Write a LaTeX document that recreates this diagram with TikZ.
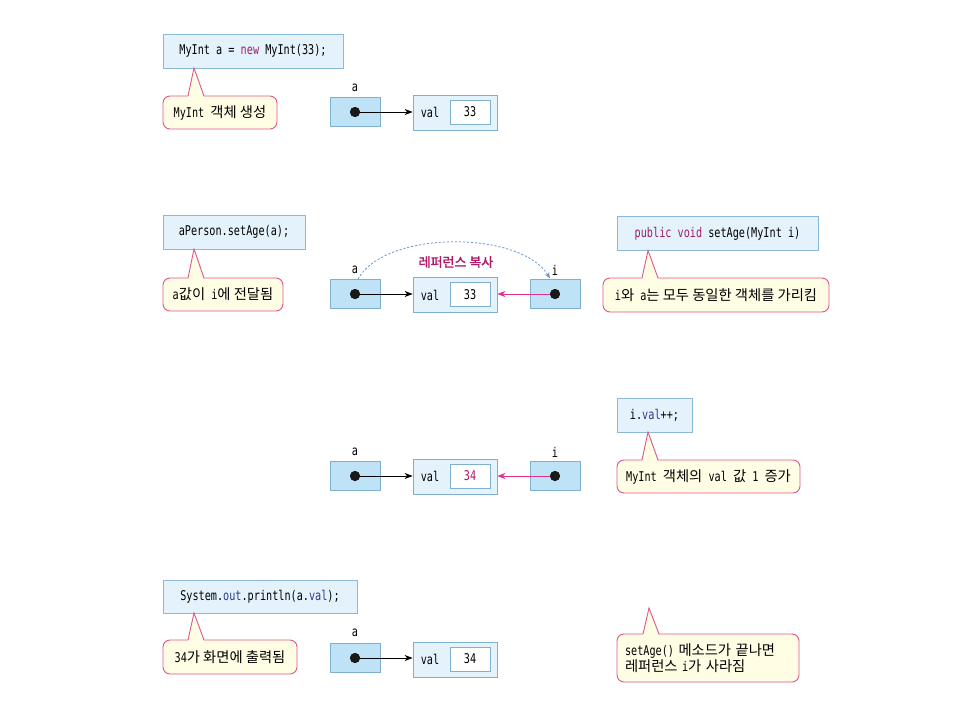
\documentclass[tikz,border=0pt]{standalone}
\usepackage{fontspec}
\setmonofont{DejaVu Sans Mono}[FakeStretch=0.76]
\newfontfamily\krfont{Noto Sans CJK KR}
\newfontfamily\krbold{Noto Sans CJK KR}[FakeBold=1.5]
\usetikzlibrary{arrows.meta,calc}
\newcommand{\hg}[1]{{\krfont\fontsize{14.3}{16}\selectfont #1}}
\definecolor{codefill}{HTML}{E4F2FC}
\definecolor{codeline}{HTML}{8CB8DA}
\definecolor{callfill}{HTML}{FFFDE4}
\definecolor{callline}{HTML}{E0558C}
\definecolor{reffill}{HTML}{BEE3F7}
\definecolor{refline}{HTML}{7FB0D0}
\definecolor{kw}{HTML}{9C1F6C}
\definecolor{fld}{HTML}{2E3A8C}
\definecolor{hot}{HTML}{B0186A}
\definecolor{pinkarrow}{HTML}{E0308A}
\definecolor{arcblue}{HTML}{6A9BD1}
\newcommand{\callptr}[3]{%
  \fill[callfill] (#1,#2) -- (#1-6,#3+1.5) -- (#1+10,#3+1.5) -- cycle;
  \draw[callline, line width=0.9pt, line join=miter] (#1-6,#3) -- (#1,#2) -- (#1+10,#3);}
\begin{document}
\begin{tikzpicture}[x=1pt,y=-1pt,
  font=\ttfamily\fontsize{13.4}{16}\selectfont,
  code/.style={draw=codeline, fill=codefill, line width=0.8pt, inner sep=0pt, minimum height=34pt},
  callout/.style={draw=callline, fill=callfill, line width=0.9pt, rounded corners=7pt, inner sep=0pt, minimum height=33pt},
  ref/.style={draw=refline, fill=reffill, line width=0.8pt, minimum width=50pt, minimum height=29pt, inner sep=0pt},
  valbox/.style={draw=refline, fill=codefill, line width=0.8pt, minimum width=84pt, minimum height=35pt, inner sep=0pt},
  numbox/.style={draw=refline, fill=white, line width=0.8pt, minimum width=40pt, minimum height=24pt, inner sep=0pt},
  dot/.style={circle, fill=black!90, inner sep=0pt, minimum size=10pt},
  ptr/.style={-{Stealth[length=8pt,width=6pt,inset=2.5pt]}, line width=0.7pt},
  lbl/.style={inner sep=0pt}
]
\useasboundingbox[fill=white] (0,0) rectangle (960,720);

% ---------- Row 1 ----------
\node[code, minimum width=180pt] (c1) at (253,51) {MyInt a = \textcolor{kw}{new} MyInt(33);};
\node[callout, minimum width=114pt] (t1) at (220,112.5) {MyInt \hg{객체 생성}};
\callptr{194}{68}{96}
\node[lbl] (la1) at (355,88) {a};
\node[ref] (ra1) at (355,112) {};
\node[valbox] (v1) at (455,112.5) {};
\node[lbl] (vt1) at (430,112.5) {val};
\node[numbox] (n1) at (470,112) {33};
\node[dot] (d1) at (ra1.center) {};
\draw[ptr] (d1.center) -- (d1.center -| v1.west);
\node[dot] at (ra1.center) {};

% ---------- Row 2 ----------
\node[code, minimum width=142pt] (c2) at (234,232) {aPerson.setAge(a);};
\node[callout, minimum width=120pt] (t2) at (223,294.5) {a\hg{값이} i\hg{에 전달됨}};
\callptr{194}{249}{278}
\node[lbl] (la2) at (355,270) {a};
\node[ref] (ra2) at (355,294) {};
\node[valbox] (v2) at (455,295) {};
\node[lbl] (vt2) at (430,295) {val};
\node[numbox] (n2) at (470,294.5) {33};
\node[lbl] (li2) at (555,270) {i};
\node[ref] (ri2) at (555,294) {};
\node[dot] (d2) at (ra2.center) {};
\node[dot] (d2i) at (ri2.center) {};
\draw[ptr] (d2.center) -- (d2.center -| v2.west);
\draw[ptr, pinkarrow] (d2i.center) -- (d2i.center -| v2.east);
\node[dot] at (ra2.center) {};
\node[dot] at (ri2.center) {};
\coordinate (arcs) at ($(ra2.north)+(3,0)$);
\coordinate (arce) at ($(li2.south)+(-5,3)$);
\draw[arcblue, line width=0.8pt, dash pattern=on 2.2pt off 1.8pt, -{Stealth[length=6pt,width=5pt]}]
  (arcs) .. controls (385,230) and (520,230) .. (arce);
\node[lbl, text=hot] (copy) at (456,262) {\krbold\fontsize{13}{14}\selectfont 레퍼런스 복사};

\node[code, minimum width=201pt] (c3) at (717.5,233.5) {\textcolor{kw}{public void} setAge(MyInt i)};
\node[callout, minimum width=226pt, minimum height=34pt] (t3) at (716,295) {i\hg{와} a\hg{는 모두 동일한 객체를 가리킴}};
\callptr{648}{250.5}{278}

% ---------- Row 3 ----------
\node[code, minimum width=75pt] (c4) at (654.5,415) {i.\textcolor{fld}{val}++;};
\node[callout, minimum width=183pt] (t4) at (708.5,476.5) {MyInt \hg{객체의} val \hg{값} 1 \hg{증가}};
\callptr{648}{432}{460}
\node[lbl] (la3) at (355,452) {a};
\node[ref] (ra3) at (355,476) {};
\node[valbox] (v3) at (455,476.5) {};
\node[lbl] (vt3) at (430,476.5) {val};
\node[numbox] (n3) at (470,476) {\textcolor{hot}{34}};
\node[lbl] (li3) at (555,452) {i};
\node[ref] (ri3) at (555,476) {};
\node[dot] (d3) at (ra3.center) {};
\node[dot] (d3i) at (ri3.center) {};
\draw[ptr] (d3.center) -- (d3.center -| v3.west);
\draw[ptr, pinkarrow] (d3i.center) -- (d3i.center -| v3.east);
\node[dot] at (ra3.center) {};
\node[dot] at (ri3.center) {};

% ---------- Row 4 ----------
\node[code, minimum width=194pt, minimum height=33pt] (c5) at (260,596.5) {System.\textcolor{fld}{out}.println(a.\textcolor{fld}{val});};
\node[callout, minimum width=134pt, minimum height=34pt] (t5) at (230,657) {34\hg{가 화면에 출력됨}};
\callptr{194}{613}{640}
\node[lbl] (la4) at (355,633) {a};
\node[ref] (ra4) at (355,658) {};
\node[valbox] (v4) at (455,659.5) {};
\node[lbl] (vt4) at (430,659.5) {val};
\node[numbox] (n4) at (470,659) {34};
\node[dot] (d4) at (ra4.center) {};
\draw[ptr] (d4.center) -- (d4.center -| v4.west);
\node[dot] at (ra4.center) {};

\node[callout, minimum width=182pt, minimum height=48pt, align=left, text width=166pt, inner xsep=0pt] (t6) at (708,658)
  {setAge() \hg{메소드가 끝나면}\\\hg{레퍼런스} i\hg{가 사라짐}};
\callptr{649}{608}{634}
\end{tikzpicture}
\end{document}
